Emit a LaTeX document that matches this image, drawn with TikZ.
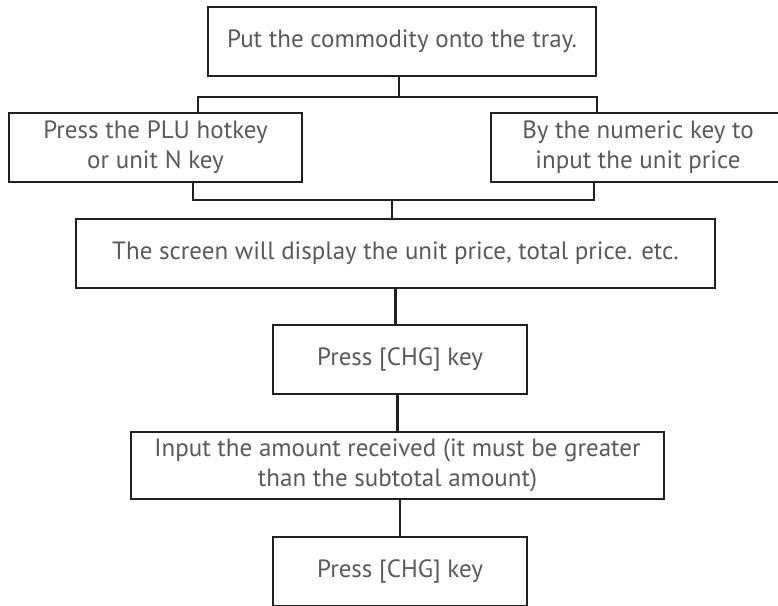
\documentclass[tikz,border=0pt]{standalone}
\usepackage{fontspec}
\setmainfont{PT Sans}
\usetikzlibrary{positioning}
\definecolor{linegray}{HTML}{231F20}
\definecolor{textgray}{HTML}{595959}

\begin{document}
\begin{tikzpicture}[
  x=1pt, y=-1pt,
  font=\fontsize{25}{30}\selectfont,
  stepbox/.style={draw=linegray, line width=2.8pt, text=textgray, align=center, inner sep=0pt, minimum height=69pt},
  link/.style={draw=linegray, line width=2.8pt, line join=miter}
]
\useasboundingbox (0,0) rectangle (778,605);
\clip (0,0) rectangle (778,605);
\node[stepbox, minimum width=388pt] (tray)   at (402,41.5)   {Put the commodity onto the tray.};
\node[stepbox, minimum width=293pt] (hotkey) at (155.5,147.5) {Press the PLU hotkey\\or unit N key};
\node[stepbox, minimum width=294pt] (numkey) at (638,147.5)   {By the numeric key to\\input the unit price};
\node[stepbox, minimum width=639pt] (screen) at (395.5,253.5) {The screen will display the unit price, total price. etc.};
\node[stepbox, minimum width=254pt] (chg1)   at (400,359.5)   {Press [CHG] key};
\node[stepbox, minimum width=533pt, minimum height=67pt] (cash) at (397.5,465.5) {Input the amount received (it must be greater\\than the subtotal amount)};
\node[stepbox, minimum width=254pt] (chg2)   at (400,571.5)   {Press [CHG] key};
% fork below the tray
\coordinate (fork)  at (399,97);
\coordinate (forkl) at (198,97);
\coordinate (forkr) at (597,97);
\draw[link] (tray.south -| fork) -- (fork);
\draw[link] (forkl |- hotkey.north) -- (forkl) -- (forkr) -- (forkr |- numkey.north);
% join above the screen
\coordinate (join)  at (392,200);
\coordinate (joinl) at (193,200);
\coordinate (joinr) at (594,200);
\draw[link] (joinl |- hotkey.south) -- (joinl) -- (joinr) -- (joinr |- numkey.south);
\draw[link] (join) -- (join |- screen.north);
\draw[link] (screen.south) -- (screen.south |- chg1.north);
\draw[link] (cash.north |- chg1.south) -- (cash.north);
\draw[link] (chg2.north |- cash.south) -- (chg2.north);
\end{tikzpicture}
\end{document}
